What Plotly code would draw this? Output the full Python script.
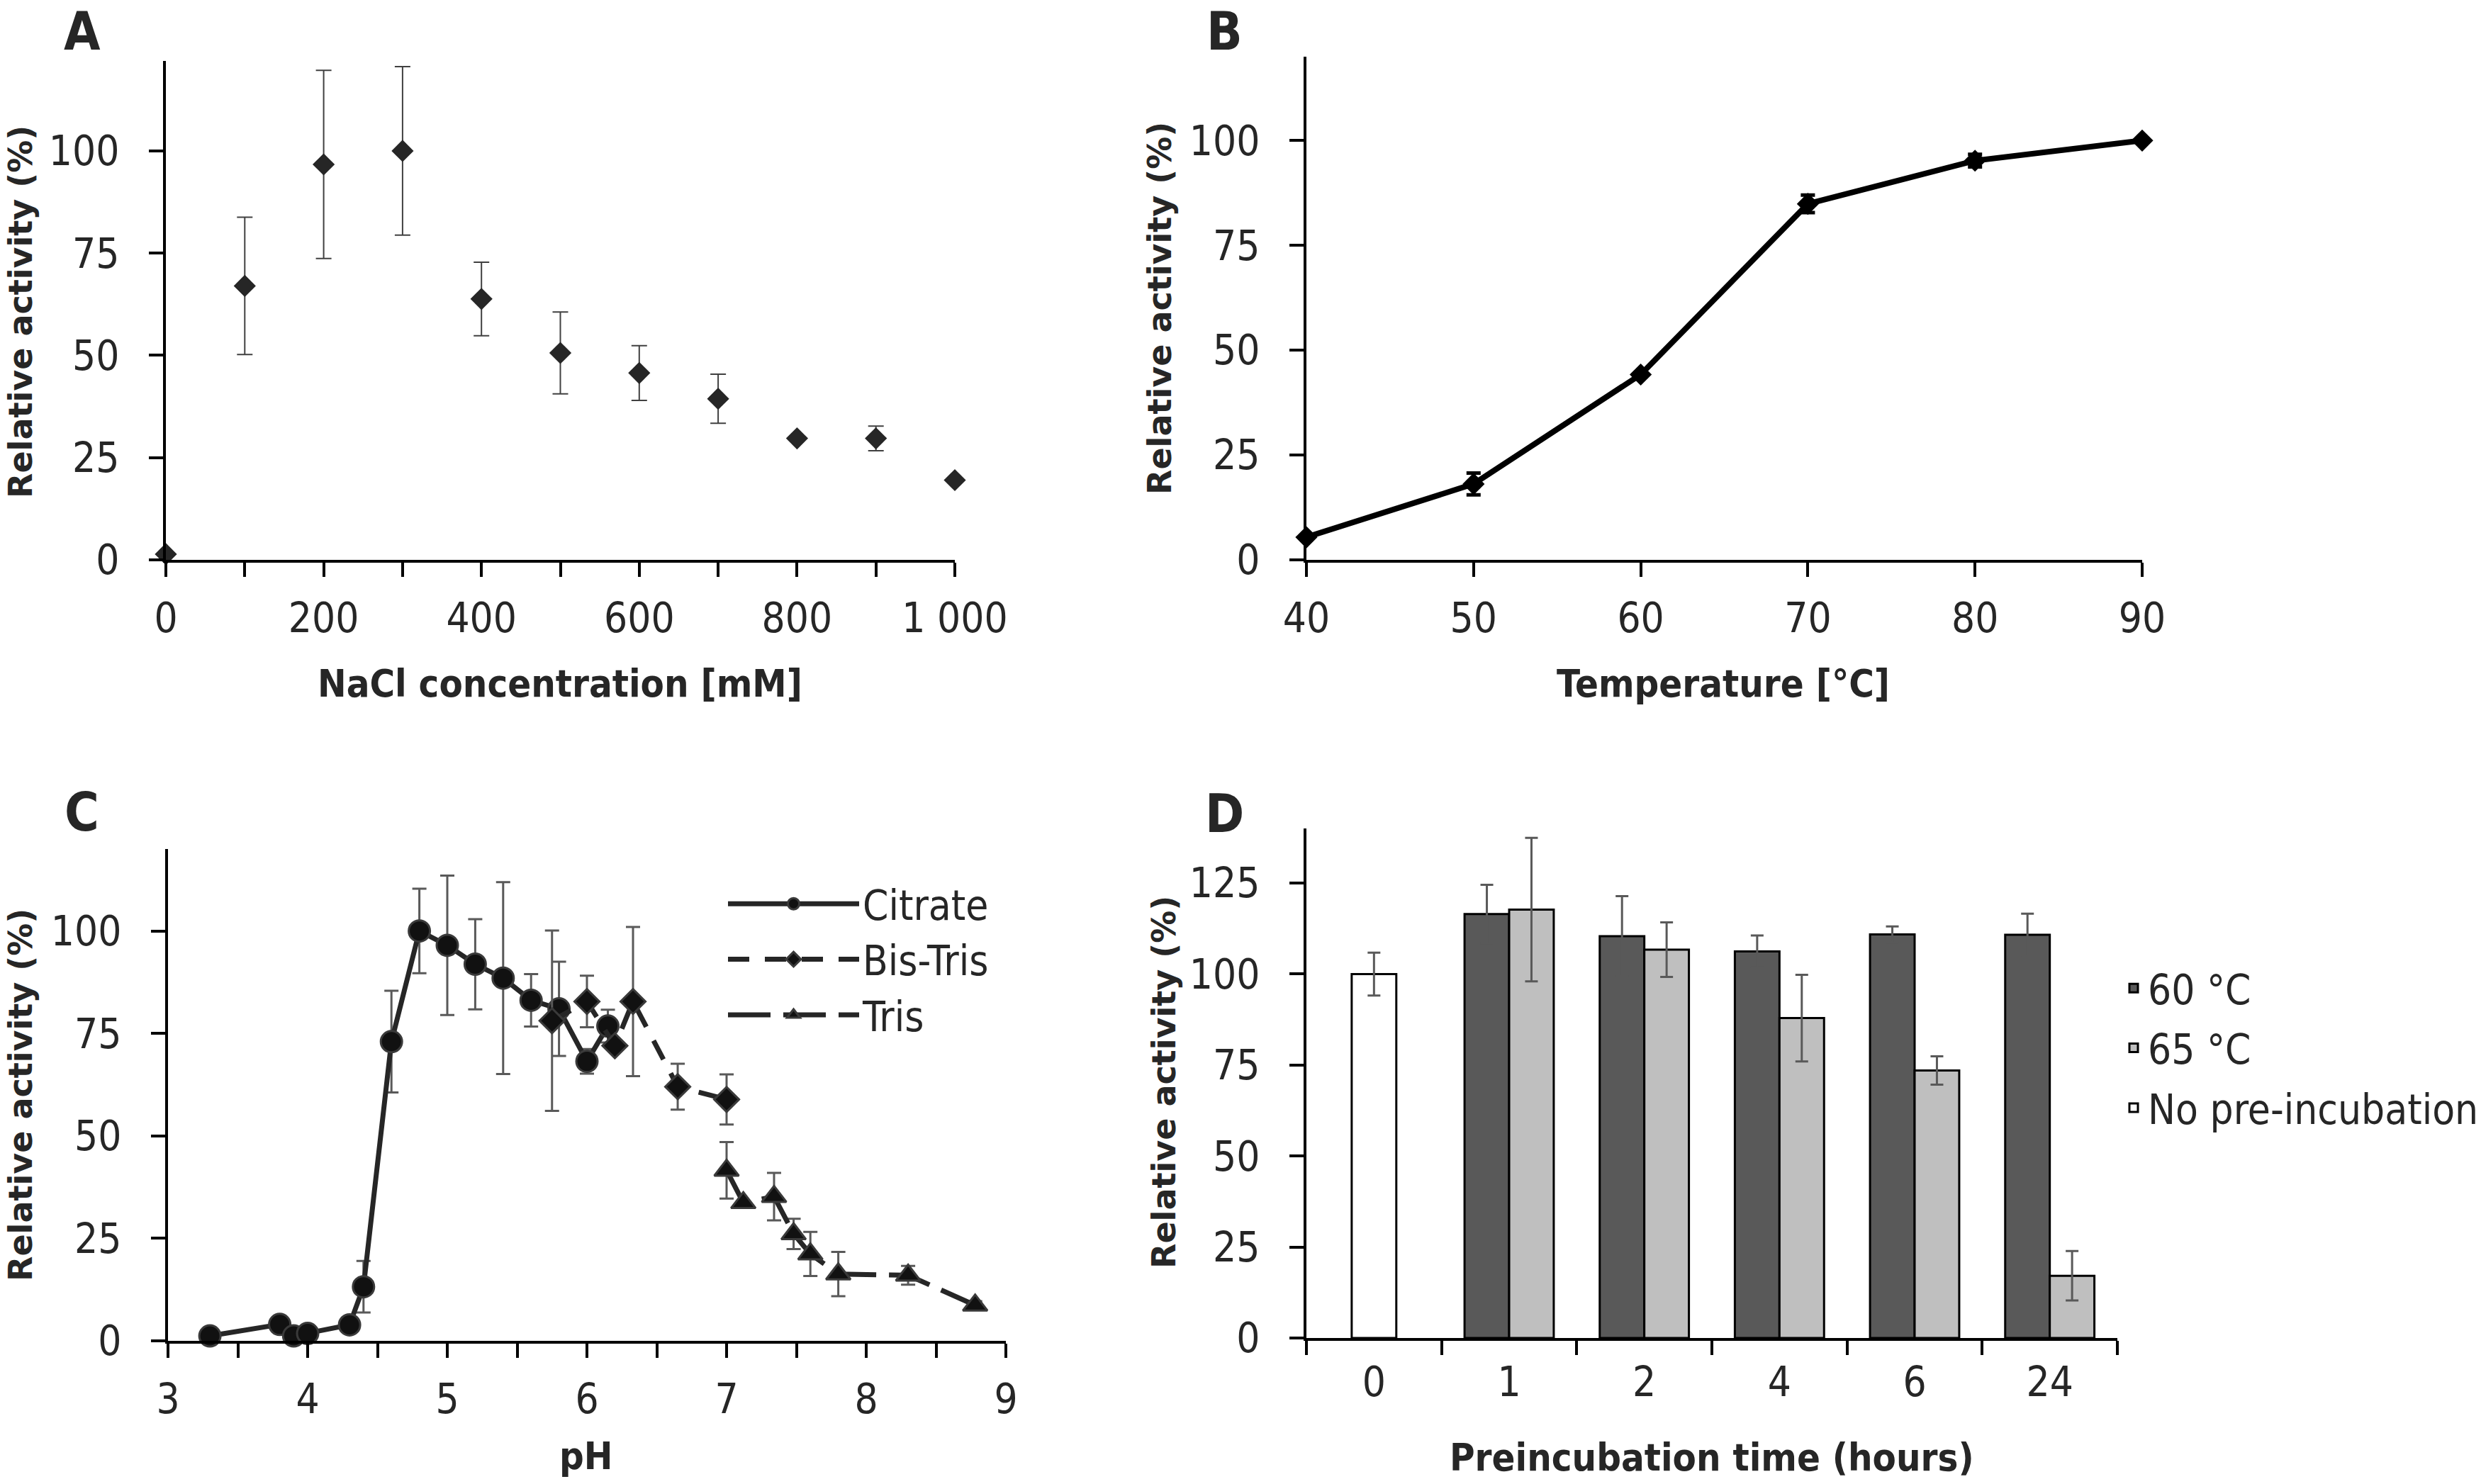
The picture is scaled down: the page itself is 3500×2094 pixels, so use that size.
import plotly.graph_objects as go

W, H = 3500, 2094

# ---------------- data ----------------
# Panel A: NaCl
nacl_mM = [0, 100, 200, 300, 400, 500, 600, 700, 800, 900, 1000]
nacl_act = [1.4, 67, 96.7, 100, 63.8, 50.6, 45.7, 39.4, 29.7, 29.7, 19.5]
nacl_err = [0, 16.8, 23, 20.6, 9, 10, 6.7, 6, 0, 3, 0]

# Panel B: temperature
temp_C = [40, 50, 60, 70, 80, 90]
temp_act = [5.4, 18.1, 44.2, 84.9, 95.2, 100]
temp_err = [0, 2.6, 0, 2.1, 1.5, 0]

# Panel C: pH
cit_pH = [3.3, 3.8, 3.9, 4.0, 4.3, 4.4, 4.6, 4.8, 5.0, 5.2, 5.4, 5.6, 5.8, 6.0, 6.15]
cit_act = [1.2, 4, 1.2, 1.8, 3.9, 13.2, 73, 100, 96.5, 91.9, 88.5, 83.1, 81, 68.2, 76.8]
cit_err = [0, 0, 0, 0, 0, 6.3, 12.4, 10.3, 17, 11, 23.4, 6.4, 11.5, 3, 4]
bis_pH = [5.75, 6.0, 6.2, 6.33, 6.65, 7.0]
bis_act = [78.1, 82.8, 72, 82.8, 62, 58.9]
bis_err = [22, 6.3, 0, 18.2, 5.6, 6.1]
tris_pH = [7.0, 7.12, 7.34, 7.48, 7.6, 7.8, 8.3, 8.78]
tris_act = [41.6, 33.7, 35.2, 26.1, 21.2, 16.3, 16, 8.7]
tris_err = [6.9, 0, 5.8, 3.7, 5.4, 5.4, 2.3, 1]

# Panel D: preincubation
pre_time = ['0', '1', '2', '4', '6', '24']
nopre_time = ['0']
nopre_act = [100]
nopre_err = [5.9]
heat_time = ['1', '2', '4', '6', '24']
act60 = [116.5, 110.4, 106.2, 110.9, 110.8]
err60 = [8, 11, 4.4, 2.2, 5.8]
act65 = [117.7, 106.7, 87.9, 73.5, 17.1]
err65 = [19.7, 7.5, 11.9, 3.9, 6.8]

# tick labels
nacl_ticks = list(range(0, 1001, 100))
nacl_ticktext = ['0', '', '200', '', '400', '', '600', '', '800', '', '1 000']
ph_ticks = [3 + 0.5 * i for i in range(13)]
ph_ticktext = [str(int(v)) if v == int(v) else '' for v in ph_ticks]

# ---------------- style ----------------
NARROW = "Liberation Sans Narrow, Arial Narrow, DejaVu Sans Condensed, sans-serif"
WIDE = "DejaVu Sans, Verdana, sans-serif"
TXT = "#262626"
TICKFONT = dict(family=NARROW, size=58, color=TXT)


def px(x):
    return x / W


def py(y):
    return 1 - y / H


fig = go.Figure()

# Panel A
fig.add_trace(go.Scatter(
    x=nacl_mM, y=nacl_act, mode='markers', xaxis='x', yaxis='y',
    marker=dict(symbol='diamond', size=24, color='#262626'),
    error_y=dict(type='data', array=nacl_err, visible=True, color='#404040', thickness=2, width=11),
    cliponaxis=False, showlegend=False))

# Panel B
fig.add_trace(go.Scatter(
    x=temp_C, y=temp_act, mode='lines+markers', xaxis='x2', yaxis='y2',
    line=dict(color='black', width=8),
    marker=dict(symbol='diamond', size=24, color='black'),
    error_y=dict(type='data', array=temp_err, visible=True, color='black', thickness=5, width=10),
    cliponaxis=False, showlegend=False))

# Panel C
LC = '#262626'
fig.add_trace(go.Scatter(
    x=cit_pH, y=cit_act, mode='lines+markers', xaxis='x3', yaxis='y3', name='Citrate',
    line=dict(color=LC, width=7),
    marker=dict(symbol='circle', size=30, color='#111111', line=dict(color='#3a3a3a', width=3)),
    error_y=dict(type='data', array=cit_err, visible=True, color='#595959', thickness=3, width=10),
    cliponaxis=False, legend='legend'))
fig.add_trace(go.Scatter(
    x=bis_pH, y=bis_act, mode='lines+markers', xaxis='x3', yaxis='y3', name='Bis-Tris',
    line=dict(color=LC, width=7, dash='30px,22px'),
    marker=dict(symbol='diamond', size=27, color='#111111', line=dict(color='#3a3a3a', width=3)),
    error_y=dict(type='data', array=bis_err, visible=True, color='#595959', thickness=3, width=10),
    cliponaxis=False, legend='legend'))
fig.add_trace(go.Scatter(
    x=tris_pH, y=tris_act, mode='lines+markers', xaxis='x3', yaxis='y3', name='Tris',
    line=dict(color=LC, width=7, dash='60px,18px'),
    marker=dict(symbol='triangle-up', size=30, color='#111111', line=dict(color='#3a3a3a', width=3)),
    error_y=dict(type='data', array=tris_err, visible=True, color='#595959', thickness=3, width=10),
    cliponaxis=False, legend='legend'))

# Panel D
BW = 0.33
fig.add_trace(go.Bar(
    x=heat_time, y=act60, name='60 °C', xaxis='x4', yaxis='y4', legendgroup='g60',
    width=BW, offset=-BW, marker=dict(color='#595959', line=dict(color='black', width=3)),
    error_y=dict(type='data', array=err60, visible=True, color='#595959', thickness=3, width=9),
    legend='legend2'))
fig.add_trace(go.Bar(
    x=heat_time, y=act65, name='65 °C', xaxis='x4', yaxis='y4', legendgroup='g65',
    width=BW, offset=0, marker=dict(color='#bfbfbf', line=dict(color='black', width=3)),
    error_y=dict(type='data', array=err65, visible=True, color='#595959', thickness=3, width=9),
    legend='legend2'))
fig.add_trace(go.Bar(
    x=nopre_time, y=nopre_act, name='No pre-incubation', xaxis='x4', yaxis='y4', legendgroup='g0',
    width=BW, offset=-BW / 2, marker=dict(color='white', line=dict(color='black', width=3)),
    error_y=dict(type='data', array=nopre_err, visible=True, color='#595959', thickness=3, width=9),
    legend='legend2'))

axis_common = dict(showline=True, linecolor='black', linewidth=4, ticks='outside', ticklen=20,
                   tickwidth=4, tickcolor='black', showgrid=False, zeroline=False,
                   tickfont=TICKFONT, automargin=False)
xstand = dict(ticklabelstandoff=8)
ystand = dict(ticklabelstandoff=30)

fig.update_layout(
    width=W, height=H, margin=dict(l=0, r=0, t=0, b=0, autoexpand=False),
    paper_bgcolor='white', plot_bgcolor='white', barmode='overlay',
    # A
    xaxis=dict(axis_common, **xstand, domain=[px(234), px(1347)], anchor='y', range=[0, 1000],
               tickmode='array', tickvals=nacl_ticks, ticktext=nacl_ticktext),
    yaxis=dict(axis_common, **ystand, domain=[py(790), py(86)], anchor='x', range=[0, 122],
               tickmode='array', tickvals=[0, 25, 50, 75, 100]),
    # B
    xaxis2=dict(axis_common, **xstand, domain=[px(1843), px(3022)], anchor='y2', range=[40, 90],
                tickmode='array', tickvals=temp_C),
    yaxis2=dict(axis_common, **ystand, domain=[py(790), py(80)], anchor='x2', range=[0, 120],
                tickmode='array', tickvals=[0, 25, 50, 75, 100]),
    # C
    xaxis3=dict(axis_common, **xstand, domain=[px(237), px(1419)], anchor='y3', range=[3, 9],
                tickmode='array', tickvals=ph_ticks, ticktext=ph_ticktext),
    yaxis3=dict(axis_common, **ystand, domain=[py(1892), py(1198)], anchor='x3', range=[0, 120],
                tickmode='array', tickvals=[0, 25, 50, 75, 100]),
    # D
    xaxis4=dict(axis_common, **xstand, domain=[px(1843), px(2987)], anchor='y4', type='category',
                categoryorder='array', categoryarray=pre_time, range=[-0.5, 5.5],
                tickson='boundaries'),
    yaxis4=dict(axis_common, **ystand, domain=[py(1888), py(1169)], anchor='x4', range=[0, 140],
                tickmode='array', tickvals=[0, 25, 50, 75, 100, 125]),
    legend=dict(x=px(1022), y=py(1231), xanchor='left', yanchor='top', bgcolor='rgba(0,0,0,0)',
                font=dict(family=NARROW, size=58, color=TXT), itemwidth=185, tracegroupgap=0),
    legend2=dict(x=px(2990), y=py(1350), xanchor='left', yanchor='top', bgcolor='rgba(0,0,0,0)',
                 font=dict(family=NARROW, size=58, color=TXT), itemwidth=30, tracegroupgap=6),
)

annotations = []
# panel letters
for letter, (x, y) in {'A': (116, 0), 'B': (1727, 0), 'C': (116, 1102), 'D': (1727, 1104)}.items():
    annotations.append(dict(text='<b>' + letter + '</b>', x=px(x), y=py(y), xref='paper', yref='paper',
                            showarrow=False, xanchor='center', yanchor='top', borderpad=0,
                            font=dict(family=NARROW, size=74, color=TXT)))
# y titles
for (x, y) in [(29, 440), (1636, 435), (29, 1545), (1642, 1527)]:
    annotations.append(dict(text='<b>Relative activity (%)</b>', x=px(x), y=py(y), xref='paper',
                            yref='paper', showarrow=False, textangle=-90, xanchor='center',
                            yanchor='middle', font=dict(family=WIDE, size=46, color=TXT)))
# x titles
for text, (x, y) in [('NaCl concentration [mM]', (790, 964)), ('Temperature [°C]', (2431, 964)),
                     ('pH', (826, 2054)), ('Preincubation time (hours)', (2415, 2056))]:
    annotations.append(dict(text='<b>' + text + '</b>', x=px(x), y=py(y), xref='paper', yref='paper',
                            showarrow=False, xanchor='center', yanchor='middle',
                            font=dict(family=NARROW, size=54, color=TXT)))
fig.update_layout(annotations=annotations)

fig.write_html("out.html", post_script="document.body.style.margin='0';",
               config={'displayModeBar': False})
